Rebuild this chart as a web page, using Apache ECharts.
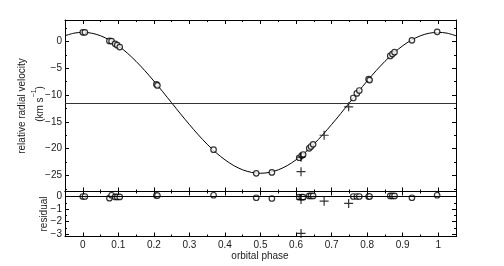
<!DOCTYPE html>
<html><head><meta charset="utf-8">
<script src="https://cdn.jsdelivr.net/npm/echarts@6/dist/echarts.min.js"></script>
<style>html,body{margin:0;padding:0;background:#fff}#c{width:504px;height:266px}</style>
</head><body><div id="c"></div>
<script>
// ---- data ----
const modelPhase = [-0.05,-0.025,0,0.025,0.05,0.075,0.1,0.125,0.15,0.175,0.2,0.225,0.25,0.275,0.3,0.325,0.35,0.375,0.4,0.425,0.45,0.475,0.5,0.525,0.55,0.575,0.6,0.625,0.65,0.675,0.7,0.725,0.75,0.775,0.8,0.825,0.85,0.875,0.9,0.925,0.95,0.975,1.0,1.025,1.05];
const modelVel = [1.06,1.54,1.70,1.54,1.06,0.27,-0.81,-2.15,-3.72,-5.48,-7.39,-9.39,-11.45,-13.51,-15.51,-17.42,-19.18,-20.75,-22.09,-23.17,-23.96,-24.44,-24.60,-24.44,-23.96,-23.17,-22.09,-20.75,-19.18,-17.42,-15.51,-13.51,-11.45,-9.39,-7.39,-5.48,-3.72,-2.15,-0.81,0.27,1.06,1.54,1.70,1.54,1.06];
const systemicVel = -11.45;

const obsPhase = [0.000,0.006,0.075,0.081,0.091,0.097,0.104,0.207,0.210,0.368,0.488,0.532,0.609,0.616,0.620,0.637,0.642,0.648,0.761,0.771,0.778,0.804,0.807,0.865,0.871,0.877,0.926,0.997];
const obsVel   = [1.7,1.7,0.1,0.05,-0.45,-0.7,-1.05,-8.0,-8.2,-20.2,-24.6,-24.45,-21.7,-21.3,-21.1,-19.95,-19.6,-19.2,-10.55,-9.7,-9.15,-7.05,-7.2,-2.7,-2.35,-2.0,0.2,1.8];
const obsRes   = [0.0,0.0,-0.13,0.1,-0.03,-0.03,-0.03,0.08,0.08,0.1,-0.1,-0.16,-0.05,-0.05,-0.05,0.05,0.05,0.05,0,0,0,0,0,0.05,0.05,0.05,-0.1,0.1];

const outPhase = [0.614,0.614,0.679,0.748];
const outVel   = [-21.6,-24.3,-17.5,-12.2];
const outRes   = [-0.24,-2.95,-0.37,-0.55];

const xMajor = [0,0.1,0.2,0.3,0.4,0.5,0.6,0.7,0.8,0.9,1];
const xMinor = [-0.05,0.05,0.15,0.25,0.35,0.45,0.55,0.65,0.75,0.85,0.95,1.05];
const vMajor = [0,-5,-10,-15,-20,-25];
const vMinor = [2.5,-2.5,-7.5,-12.5,-17.5,-22.5,-27.5];
const rMajor = [0,-1,-2,-3];
const rMinor = [-0.5,-1.5,-2.5];

// ---- chart ----
const FONT = '"Liberation Sans", Arial, sans-serif';
const TXT = '#1a1a1a';
const zip = (a,b) => a.map((v,i)=>[v,b[i]]);
const minus = v => String(v).replace('-', '\u2212');

function axis(kind, grid, pos, min, max, ticks, len, showLine, labels) {
  const a = {
    type: 'value', gridIndex: grid, position: pos, min: min, max: max,
    splitLine: {show: false},
    axisLine: {show: showLine, onZero: false, lineStyle: {color: '#000', width: 1}},
    axisTick: {show: true, inside: true, length: len, customValues: ticks, lineStyle: {color: '#000', width: 1}},
    axisLabel: {show: false}
  };
  if (labels) {
    a.axisLabel = {show: true, customValues: labels, color: TXT, fontFamily: FONT, fontSize: 10,
      margin: kind === 'x' ? 4 : 3, formatter: minus};
  }
  return a;
}

const G0 = {left: 65, top: 20, width: 391, height: 171.5};
const G1 = {left: 65, top: 191.5, width: 391, height: 45};

const xAxes = [
  axis('x',0,'bottom',-0.05,1.05,xMajor,4,true,null),
  axis('x',0,'bottom',-0.05,1.05,xMinor,2,false,null),
  axis('x',0,'top',-0.05,1.05,xMajor,4,true,null),
  axis('x',0,'top',-0.05,1.05,xMinor,2,false,null),
  axis('x',1,'bottom',-0.05,1.05,xMajor,4,true,xMajor),
  axis('x',1,'bottom',-0.05,1.05,xMinor,2,false,null),
  axis('x',1,'top',-0.05,1.05,xMajor,4,true,null),
  axis('x',1,'top',-0.05,1.05,xMinor,2,false,null)
];
const yAxes = [
  axis('y',0,'left',-28,4,vMajor,4,true,vMajor),
  axis('y',0,'left',-28,4,vMinor,2,false,null),
  axis('y',0,'right',-28,4,vMajor,4,true,null),
  axis('y',0,'right',-28,4,vMinor,2,false,null),
  axis('y',1,'left',-3.2,0.4,rMajor,4,true,rMajor),
  axis('y',1,'left',-3.2,0.4,rMinor,2,false,null),
  axis('y',1,'right',-3.2,0.4,rMajor,4,true,null),
  axis('y',1,'right',-3.2,0.4,rMinor,2,false,null)
];

const crossSym = 'path://M0,5L10,5M5,0L5,10';
const circleStyle = {color: '#fff', borderColor: '#000', borderWidth: 1.2};
const crossStyle = {color: 'none', borderColor: '#000', borderWidth: 1.2};

const chart = echarts.init(document.getElementById('c'), null, {renderer: 'canvas'});
chart.setOption({
  animation: false,
  backgroundColor: '#fff',
  grid: [G0, G1],
  xAxis: xAxes,
  yAxis: yAxes,
  graphic: [
    {type: 'text', x: 22, y: 106, rotation: Math.PI/2,
     style: {text: 'relative radial velocity', font: '10px ' + FONT, fill: TXT, textAlign: 'center', textVerticalAlign: 'middle'}},
    {type: 'text', x: 38, y: 104, rotation: Math.PI/2,
     style: {text: '{a|(km s}{s|\u22121}{a|)}', fill: TXT, textAlign: 'center', textVerticalAlign: 'middle',
       rich: {a: {fontSize: 10, fontFamily: FONT, fill: TXT, lineHeight: 14, verticalAlign: 'bottom'},
              s: {fontSize: 7, fontFamily: FONT, fill: TXT, lineHeight: 14, verticalAlign: 'top'}}}},
    {type: 'text', x: 44, y: 214, rotation: Math.PI/2,
     style: {text: 'residual', font: '10px ' + FONT, fill: TXT, textAlign: 'center', textVerticalAlign: 'middle'}},
    {type: 'text', x: 260, y: 256, 
     style: {text: 'orbital phase', font: '10px ' + FONT, fill: TXT, textAlign: 'center', textVerticalAlign: 'middle'}}
  ],
  series: [
    {type: 'line', xAxisIndex: 0, yAxisIndex: 0, data: zip(modelPhase, modelVel), showSymbol: false, smooth: 0.3,
     lineStyle: {color: '#000', width: 1}, silent: true, z: 2,
     markLine: {symbol: 'none', silent: true, label: {show: false},
       lineStyle: {color: '#333', width: 1, type: 'solid'}, data: [{yAxis: systemicVel}]}},
    {type: 'scatter', xAxisIndex: 0, yAxisIndex: 0, data: zip(obsPhase, obsVel), symbol: 'circle', symbolSize: 5.5,
     itemStyle: circleStyle, z: 3},
    {type: 'scatter', xAxisIndex: 0, yAxisIndex: 0, data: zip(outPhase, outVel), symbol: crossSym, symbolSize: 9,
     itemStyle: crossStyle, z: 4},
    {type: 'scatter', xAxisIndex: 4, yAxisIndex: 4, data: zip(obsPhase, obsRes), symbol: 'circle', symbolSize: 5.5,
     itemStyle: circleStyle, z: 3,
     markLine: {symbol: 'none', silent: true, label: {show: false},
       lineStyle: {color: '#000', width: 1, type: 'solid'}, data: [{yAxis: 0}]}},
    {type: 'scatter', xAxisIndex: 4, yAxisIndex: 4, data: zip(outPhase, outRes), symbol: crossSym, symbolSize: 9,
     itemStyle: crossStyle, z: 4}
  ]
});
</script>
</body></html>
